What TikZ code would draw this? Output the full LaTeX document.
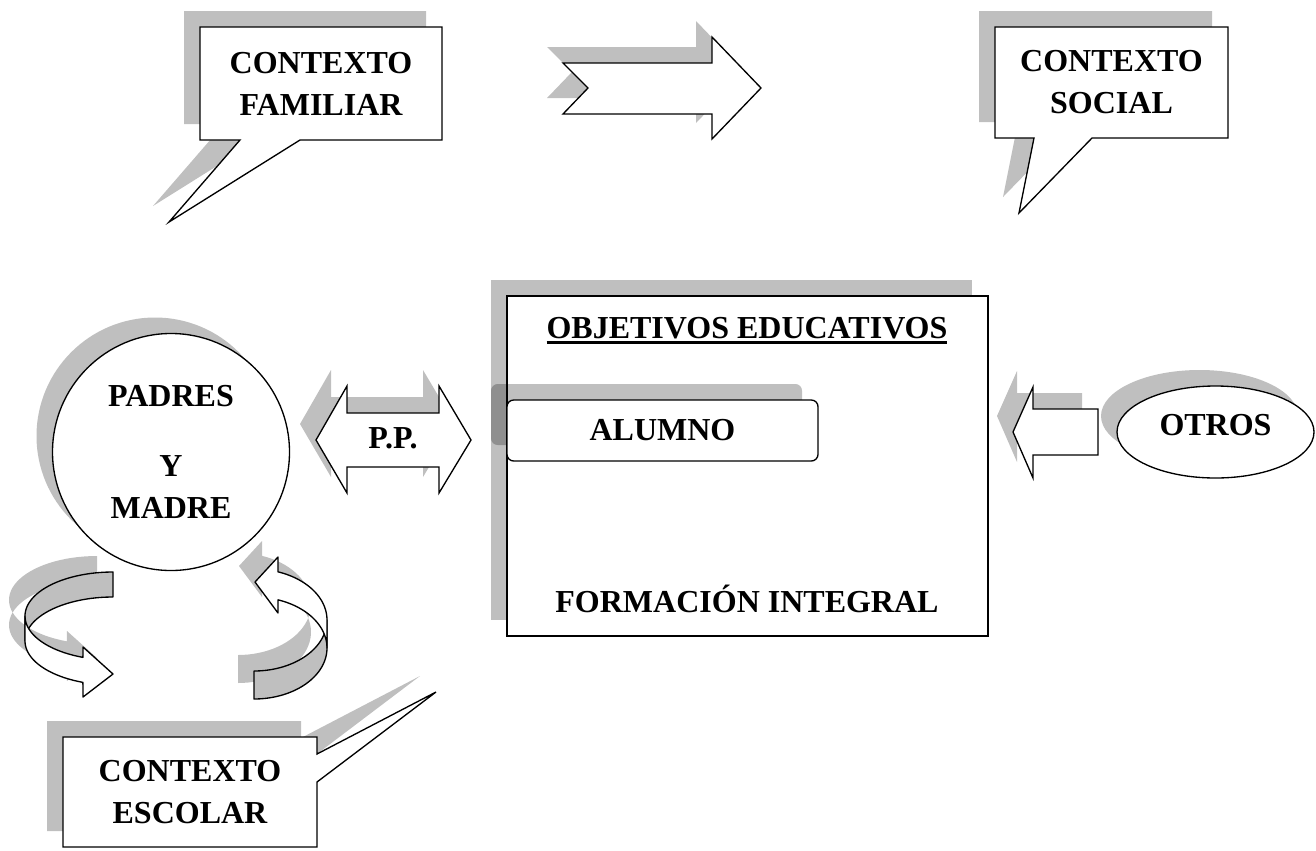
\documentclass[tikz,border=0pt]{standalone}
\usepackage{fontspec}
\setmainfont{Liberation Serif}
\usetikzlibrary{shapes.geometric,shadows}
\newcommand{\subrayar}[1]{\setbox0\hbox{#1}\rlap{\rule[-4.5pt]{\wd0}{2pt}}\box0}

\begin{document}
\begin{tikzpicture}[
  x=0.75pt, y=-0.75pt,
  txt/.style={font=\fontsize{24}{31.5}\selectfont\bfseries, align=center},
  sombra/.style={drop shadow={shadow xshift=-12pt, shadow yshift=12pt, fill=black, opacity=.25}},
  caja/.style={draw, fill=white, line width=1pt},
  globo/.style={caja, sombra, line join=miter},
  gris/.style={fill=black!25},
  cinta/.style={draw, line width=1pt, line join=round}
]
  \useasboundingbox (0,0) rectangle (1316,850);

  % contextos
  \draw[globo] (200,27) -- (442,27) -- (442,140) -- (300,140) -- (169,222) -- (240,140) -- (200,140) -- cycle;
  \node[txt] (familiar) at (321,83.5) {CONTEXTO\\FAMILIAR};
  \draw[globo] (995,27) -- (1228,27) -- (1228,138) -- (1092,138) -- (1019,213) -- (1034,138) -- (995,138) -- cycle;
  \node[txt] (social) at (1111.5,82.5) {CONTEXTO\\SOCIAL};
  \draw[globo] (63,737) -- (317,737) -- (317,754) -- (436,692) -- (317,782) -- (317,847) -- (63,847) -- cycle;
  \node[txt] (escolar) at (190,792) {CONTEXTO\\ESCOLAR};

  % flecha de arriba
  \draw[caja, sombra] (563,63) -- (712,63) -- (712,37) -- (761,88) -- (712,139) -- (712,114) -- (563,114) -- (588,88) -- cycle;

  % padres
  \node[circle, caja, sombra, txt, minimum size=177.75pt, inner sep=0pt] (padres) at (171,452) {PADRES\\[21pt]Y\\MADRE};

  % P.P.
  \draw[caja, sombra] (316,440) -- (347,386) -- (347,413) -- (439,413) -- (439,386) -- (471,440) -- (439,493) -- (439,467) -- (347,467) -- (347,493) -- cycle;
  \node[txt, anchor=base] (pp) at (393,448) {P.P.};

  % objetivos
  \node[rectangle, caja, sombra, minimum width=360.75pt, minimum height=255pt, inner sep=0pt] (objetivos) at (747.5,466) {};
  \node[txt, anchor=base] (obj) at (747,338) {\subrayar{OBJETIVOS EDUCATIVOS}};
  \node[txt, anchor=base] (formacion) at (747,612) {FORMACIÓN INTEGRAL};
  \node[rectangle, rounded corners=5pt, caja, sombra, txt, minimum width=233.25pt, minimum height=45.75pt, inner sep=0pt] (alumno) at (662.5,430.5) {ALUMNO};

  % otros
  \draw[caja, sombra] (1013,432) -- (1033,387) -- (1033,409) -- (1098,409) -- (1098,455) -- (1033,455) -- (1033,478) -- cycle;
  \node[ellipse, caja, sombra, txt, minimum width=147.75pt, minimum height=69pt, inner sep=0pt, text depth=10pt] (otros) at (1215.5,432) {OTROS};

  % cintas (sombras primero)
  \begin{scope}[xshift=-12pt, yshift=12pt, samples=40, variable=\t]
    \fill[gris] plot[domain=270:110] ({113+88*cos(\t)},{616+44*sin(\t)}) -- (83,647) -- (113,674) -- (83,697) -- plot[domain=110:270] ({113+88*cos(\t)},{641+44*sin(\t)}) -- cycle;
    \fill[gris] plot[domain=90:-70.8] ({254+73*cos(\t)},{620+51*sin(\t)}) -- (278,557) -- (255,582) -- (278,613) -- plot[domain=-70.8:90] ({254+73*cos(\t)},{648+51*sin(\t)}) -- cycle;
  \end{scope}
  \begin{scope}[samples=40, variable=\t]
    \draw[cinta, gris] plot[domain=270:180] ({113+88*cos(\t)},{616+44*sin(\t)}) -- plot[domain=180:270] ({113+88*cos(\t)},{641+44*sin(\t)}) -- cycle;
    \draw[cinta, fill=white] plot[domain=180:110] ({113+88*cos(\t)},{616+44*sin(\t)}) -- (83,647) -- (113,674) -- (83,697) -- plot[domain=110:180] ({113+88*cos(\t)},{641+44*sin(\t)}) -- cycle;
    \draw[cinta, gris] plot[domain=90:0] ({254+73*cos(\t)},{620+51*sin(\t)}) -- plot[domain=0:90] ({254+73*cos(\t)},{648+51*sin(\t)}) -- cycle;
    \draw[cinta, fill=white] plot[domain=0:-70.8] ({254+73*cos(\t)},{620+51*sin(\t)}) -- (278,557) -- (255,582) -- (278,613) -- plot[domain=-70.8:0] ({254+73*cos(\t)},{648+51*sin(\t)}) -- cycle;
  \end{scope}
\end{tikzpicture}
\end{document}
